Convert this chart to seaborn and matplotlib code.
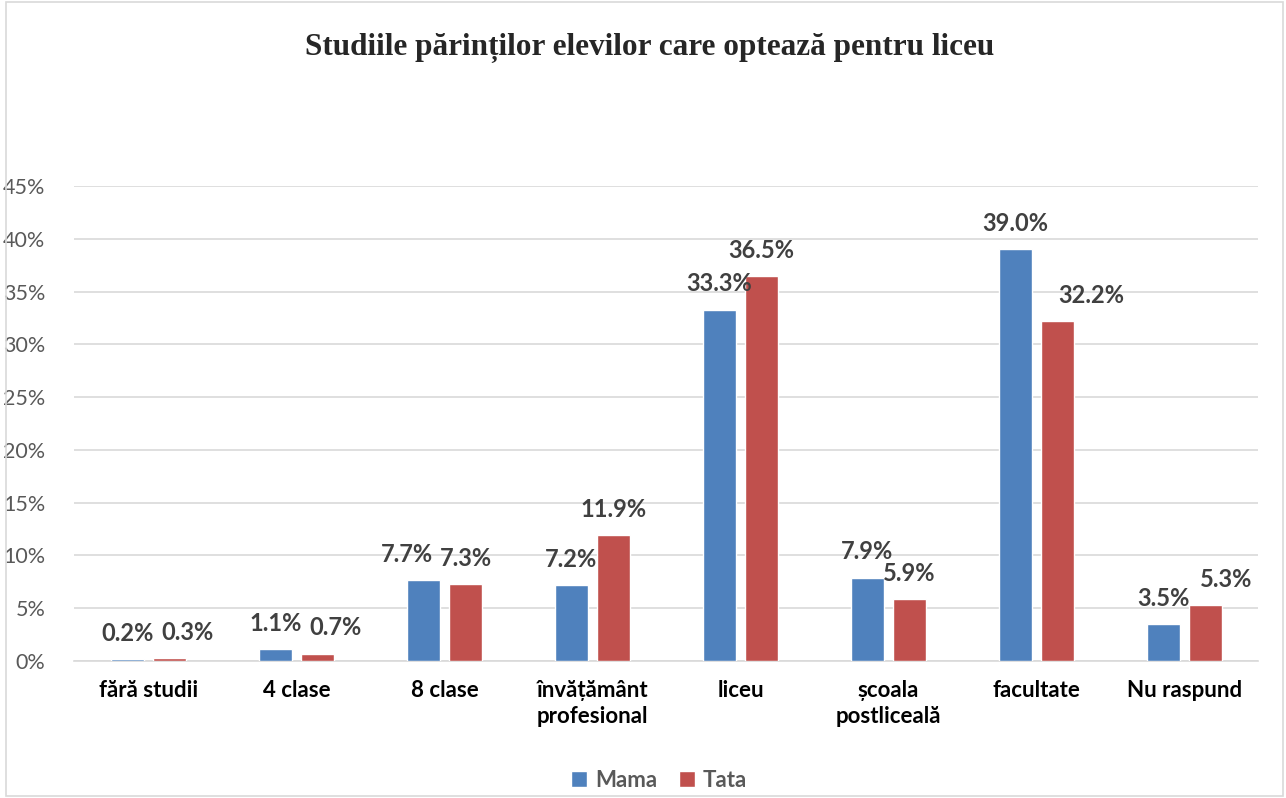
import matplotlib
matplotlib.use("Agg")
import matplotlib.pyplot as plt
import seaborn as sns
import pandas as pd
from matplotlib.patches import Rectangle

categories = ["fără studii", "4 clase", "8 clase", "învățământ\nprofesional",
              "liceu", "școala\npostliceală", "facultate", "Nu raspund"]
mama = [0.2, 1.1, 7.7, 7.2, 33.3, 7.9, 39.0, 3.5]
tata = [0.3, 0.7, 7.3, 11.9, 36.5, 5.9, 32.2, 5.3]
yticks = [0, 5, 10, 15, 20, 25, 30, 35, 40, 45]

df = pd.DataFrame({
    "cat": categories * 2,
    "val": mama + tata,
    "who": ["Mama"] * len(mama) + ["Tata"] * len(tata),
})

sns.set_style("white")
plt.rcParams["font.family"] = ["Lato", "DejaVu Sans"]

fig = plt.figure(figsize=(12.86, 7.98), dpi=100)
ax = fig.add_axes([0.0579, 0.1717, 0.9207, 0.5952])

sns.barplot(data=df, x="cat", y="val", hue="who", hue_order=["Mama", "Tata"],
            palette=["#4F81BD", "#C0504D"], saturation=1, width=0.57, gap=0.22,
            ax=ax, zorder=3, legend=True)

ax.set_ylim(0, 45)
ax.set_xlim(-0.5, len(categories) - 0.5)
ax.set_yticks(yticks)
ax.set_yticklabels([f"{t}%" for t in yticks], fontsize=15.5, color="#595959")
ax.tick_params(axis="y", length=0, pad=21)
ax.tick_params(axis="x", length=0, pad=14)
for lab in ax.get_xticklabels():
    lab.set_fontweight("bold")
    lab.set_fontsize(16)
    lab.set_color("black")
    lab.set_linespacing(1.25)
    lab.set_verticalalignment("top")
ax.yaxis.grid(True, color="#D9D9D9", linewidth=1.2, zorder=0)
ax.set_axisbelow(True)
for s in ["left", "right", "top"]:
    ax.spines[s].set_visible(False)
ax.spines["bottom"].set_color("#D9D9D9")
ax.spines["bottom"].set_linewidth(1.2)
ax.set_xlabel("")
ax.set_ylabel("")

# horizontal nudges (points) where Excel moved a label sideways
nudge_mama = [0, 0, -11.5, 0, 0, 0, 0, 0]
nudge_tata = [13, 13, 0, 0, 0, 0, 24.5, 15]
for cont, vals, nud in zip(ax.containers, [mama, tata], [nudge_mama, nudge_tata]):
    for bar, v, dx in zip(cont, vals, nud):
        ax.annotate(f"{v:.1f}%", (bar.get_x() + bar.get_width() / 2, bar.get_height()),
                    xytext=(dx, 18.5), textcoords="offset points",
                    ha="center", va="center", fontsize=17, fontweight="bold",
                    color="#404040")

ax.legend_.remove()
handles, labels = ax.get_legend_handles_labels()
leg = fig.legend(handles, labels, loc="center", bbox_to_anchor=(0.5125, 0.022), ncol=2,
                 frameon=False, handlelength=0.7, handleheight=0.7, handletextpad=0.35,
                 columnspacing=1.0, fontsize=16)
for t in leg.get_texts():
    t.set_fontweight("bold")
    t.set_color("#595959")

fig.text(0.505, 0.94, "Studiile părinților elevilor care optează pentru liceu",
         ha="center", va="center", fontsize=22.5, fontweight="bold",
         family=["Liberation Serif", "DejaVu Serif"])

fig.patches.append(Rectangle((0.005, 0.002), 0.993, 0.996, transform=fig.transFigure,
                             fill=False, edgecolor="#D9D9D9", linewidth=1.2))

fig.savefig("out.png", dpi=100)
